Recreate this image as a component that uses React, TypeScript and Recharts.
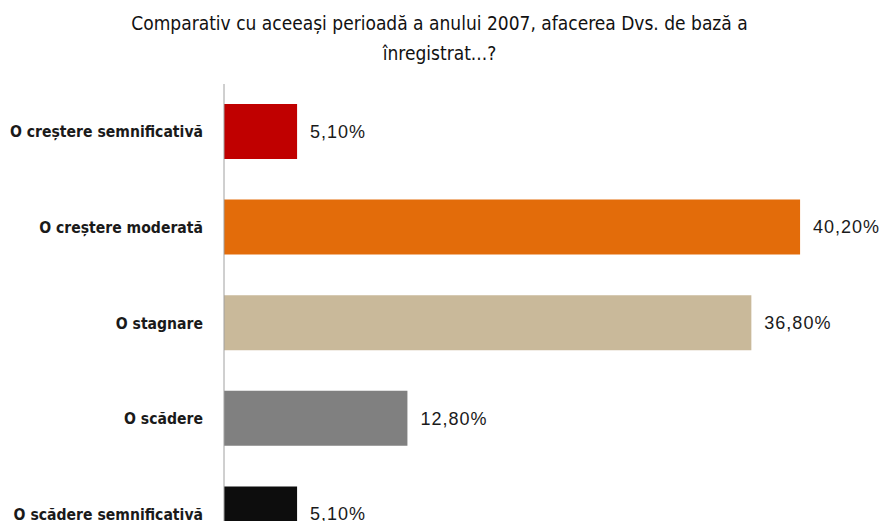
import { BarChart, Bar, XAxis, YAxis, Cell, LabelList } from "recharts";

const categories = [
  "O creștere semnificativă",
  "O creștere moderată",
  "O stagnare",
  "O scădere",
  "O scădere semnificativă",
];
const values = [5.1, 40.2, 36.8, 12.8, 5.1];
const barColors = ["#c00000", "#e36c0a", "#c9b99a", "#808080", "#0d0d0d"];

const title1 = "Comparativ cu aceeași perioadă a anului 2007, afacerea Dvs. de bază a";
const title2 = "înregistrat...?";

const data = categories.map((name, i) => ({ name, value: values[i] }));

const fmt = (v: number) => v.toFixed(2).replace(".", ",") + "%";

const narrow = '"DejaVu Sans Condensed", "Liberation Sans Narrow", Arial, sans-serif';

export default function App() {
  return (
    <div style={{ position: "fixed", left: 0, top: 0, width: 879, height: 521, overflow: "hidden", background: "#fff" }}>
      <div
        style={{
          position: "absolute",
          left: 0,
          top: 8,
          width: 879,
          textAlign: "center",
          fontFamily: narrow,
          fontSize: 19,
          lineHeight: "30px",
          color: "#111",
        }}
      >
        {title1}
        <br />
        {title2}
      </div>
      <BarChart
        width={879}
        height={570}
        data={data}
        layout="vertical"
        margin={{ top: 84, right: 13, left: 0, bottom: 8 }}
        style={{ position: "absolute", left: 0, top: 0 }}
      >
        <XAxis type="number" domain={[0, 44.8]} hide />
        <YAxis
          type="category"
          dataKey="name"
          width={224}
          tickLine={false}
          tickSize={0}
          tickMargin={21}
          axisLine={{ stroke: "#a0a0a0", strokeWidth: 1 }}
          tick={{ fontFamily: narrow, fontSize: 15.6, fontWeight: "bold", fill: "#1a1a1a", letterSpacing: 0 }}
        />
        <Bar dataKey="value" barSize={55} isAnimationActive={false}>
          {data.map((_, i) => (
            <Cell key={i} fill={barColors[i]} />
          ))}
          <LabelList
            dataKey="value"
            position="right"
            offset={13}
            formatter={(v: any) => fmt(Number(v))}
            style={{ fontFamily: "'Liberation Sans', Arial, sans-serif", fontSize: 18, fill: "#1a1a1a", letterSpacing: 1 }}
          />
        </Bar>
      </BarChart>
    </div>
  );
}
